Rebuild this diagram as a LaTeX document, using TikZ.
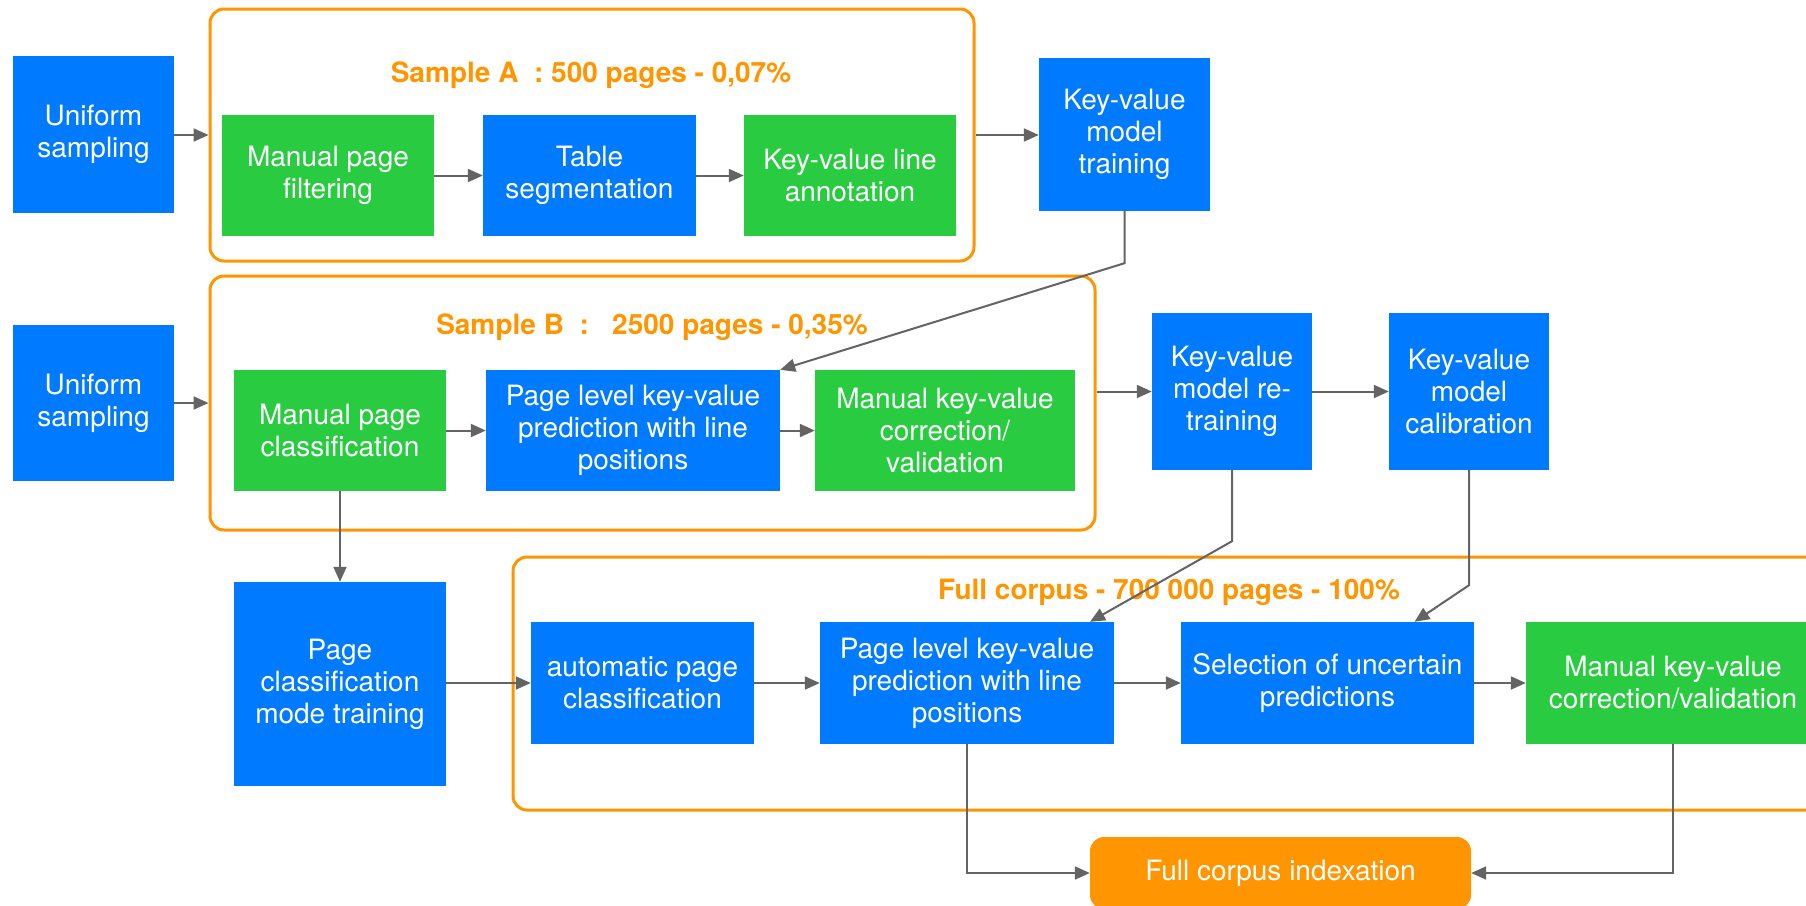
\documentclass[tikz,border=0pt]{standalone}
\usepackage{fontspec}
\setmainfont{TeX Gyre Heros}
\usetikzlibrary{arrows.meta,calc}
\definecolor{cblue}{RGB}{0,122,255}
\definecolor{cgreen}{RGB}{41,204,64}
\definecolor{corange}{RGB}{255,149,0}
\definecolor{cgray}{RGB}{100,100,100}
\begin{document}
\begin{tikzpicture}[x=1pt,y=-1pt,
  box/.style={inner sep=0pt, align=center, text=white, font=\fontsize{28}{32}\selectfont, minimum height=121pt},
  bluebox/.style={box, fill=cblue},
  greenbox/.style={box, fill=cgreen},
  frame/.style={draw=corange, line width=3pt, rounded corners=14pt, inner sep=0pt},
  title/.style={text=corange, font=\fontsize{28}{32}\selectfont\bfseries, inner sep=0pt},
  conn/.style={draw=cgray, line width=2pt, -{Triangle[length=15pt,width=13pt]}},
  plain/.style={draw=cgray, line width=2pt}
]
\clip (0,0) rectangle (1806,905);
\fill[white] (0,0) rectangle (1806,905);

% Frames
\node[frame, minimum width=764pt, minimum height=252pt] (fA) at (592,135) {};
\node[frame, minimum width=885pt, minimum height=254pt] (fB) at (652.5,403) {};
\node[frame, minimum width=1330pt, minimum height=253pt] (fC) at (1178,683.5) {};

% Titles
\node[title] (tA) at (591,75) {Sample A\ \ : 500 pages - 0,07\%};
\node[title] (tB) at (652,327) {Sample B\ \ :\ \ \ 2500 pages - 0,35\%};
\node[title] (tC) at (1169,592) {Full corpus - 700 000 pages - 100\%};

% Row A
\node[bluebox, minimum width=161pt, minimum height=157pt] (uA) at (93.5,134.5) {Uniform\\sampling};
\node[greenbox, minimum width=212pt] (mpf) at (328,175.5) {Manual page\\filtering};
\node[bluebox, minimum width=213pt] (tseg) at (589.5,175.5) {Table\\segmentation};
\node[greenbox, minimum width=212pt] (kvla) at (850,175.5) {Key-value line\\annotation};
\node[bluebox, minimum width=171pt, minimum height=153pt] (kvmt) at (1124.5,134.5) {Key-value\\model\\training};

% Row B
\node[bluebox, minimum width=161pt, minimum height=156pt] (uB) at (93.5,403) {Uniform\\sampling};
\node[greenbox, minimum width=212pt] (mpc) at (340,430.5) {Manual page\\classification};
\node[bluebox, minimum width=294pt] (plB) at (633,430.5) {Page level key-value\\prediction with line\\positions};
\node[greenbox, minimum width=260pt] (mkvB) at (945,430.5) {Manual key-value\\correction/\\validation};
\node[bluebox, minimum width=160pt, minimum height=157pt] (kvrt) at (1232,391.5) {Key-value\\model re-\\training};
\node[bluebox, minimum width=160pt, minimum height=157pt] (kvcal) at (1469,391.5) {Key-value\\model\\calibration};

% Row C
\node[bluebox, minimum width=212pt, minimum height=204pt] (pcmt) at (340,684) {Page\\classification\\mode training};
\node[bluebox, minimum width=223pt, minimum height=122pt] (apc) at (642.5,683) {automatic page\\classification};
\node[bluebox, minimum width=294pt, minimum height=122pt] (plC) at (967,683) {Page level key-value\\prediction with line\\positions};
\node[bluebox, minimum width=293pt, minimum height=122pt] (sel) at (1327.5,683) {Selection of uncertain\\predictions};
\node[greenbox, minimum width=294pt, minimum height=122pt] (mkvC) at (1673,683) {Manual key-value\\correction/validation};

% Final
\node[box, fill=corange, rounded corners=14pt, minimum width=381pt, minimum height=72pt] (fci) at (1280.5,873) {Full corpus indexation};

% Connectors
\draw[conn] (uA.east |- fA.west) -- (fA.west);
\draw[conn] (mpf.east) -- (tseg.west);
\draw[conn] (tseg.east) -- (kvla.west);
\draw[conn] (fA.east) -- (fA.east -| kvmt.west);
\draw[conn] (kvmt.south) -- ++(0,52) -- (plB.north east);

\draw[conn] (uB.east) -- (uB.east -| fB.west);
\draw[conn] (mpc.east) -- (plB.west);
\draw[conn] (plB.east) -- (mkvB.west);
\draw[conn] (kvrt.west -| fB.east) -- (kvrt.west);
\draw[conn] (kvrt.east) -- (kvcal.west);

\draw[conn] (mpc.south) -- (pcmt.north);
\draw[conn] (pcmt.east |- apc.west) -- (apc.west);
\draw[conn] (apc.east) -- (plC.west);
\draw[conn] (plC.east) -- (sel.west);
\draw[conn] (sel.east) -- (mkvC.west);

\draw[conn] (kvrt.south) -- ++(0,71) -- ([xshift=123pt]plC.north);
\draw[conn] (kvcal.south) -- ++(0,115) -- ([xshift=87pt]sel.north);

\draw[conn] (plC.south) -- (plC.south |- fci.west) -- (fci.west);
\draw[conn] (mkvC.south) -- (mkvC.south |- fci.east) -- (fci.east);
\end{tikzpicture}
\end{document}
